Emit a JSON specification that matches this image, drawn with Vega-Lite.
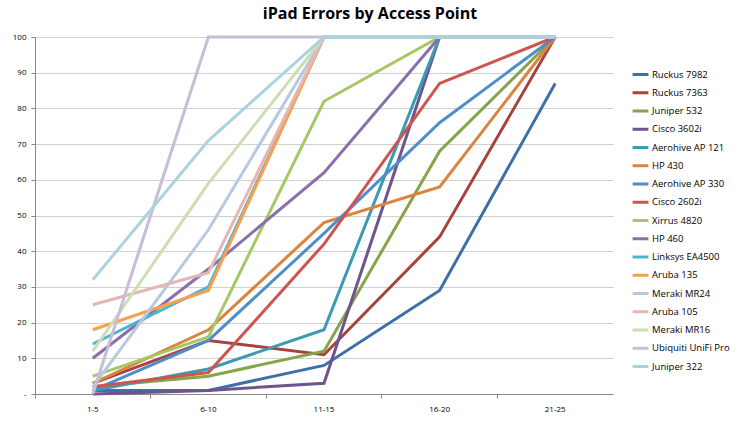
{
  "$schema": "https://vega.github.io/schema/vega-lite/v6.json",
  "autosize": {"type": "none"},
  "width": 578,
  "height": 357,
  "padding": {"left": 35, "top": 37, "right": 126, "bottom": 38},
  "background": "white",
  "title": {"text": "iPad Errors by Access Point", "font": "Open Sans", "fontSize": 16, "fontWeight": "bold", "color": "#000000", "anchor": "middle", "frame": "group", "dx": 46, "offset": 9},
  "config": {"view": {"stroke": null}, "font": "Open Sans"},
  "data": {"values": [
    {"ap": "Ruckus 7982", "r": "1-5", "v": 1}, {"ap": "Ruckus 7982", "r": "6-10", "v": 1}, {"ap": "Ruckus 7982", "r": "11-15", "v": 8}, {"ap": "Ruckus 7982", "r": "16-20", "v": 29}, {"ap": "Ruckus 7982", "r": "21-25", "v": 87},
    {"ap": "Ruckus 7363", "r": "1-5", "v": 3}, {"ap": "Ruckus 7363", "r": "6-10", "v": 15}, {"ap": "Ruckus 7363", "r": "11-15", "v": 11}, {"ap": "Ruckus 7363", "r": "16-20", "v": 44}, {"ap": "Ruckus 7363", "r": "21-25", "v": 100},
    {"ap": "Juniper 532", "r": "1-5", "v": 2}, {"ap": "Juniper 532", "r": "6-10", "v": 5}, {"ap": "Juniper 532", "r": "11-15", "v": 12}, {"ap": "Juniper 532", "r": "16-20", "v": 68}, {"ap": "Juniper 532", "r": "21-25", "v": 100},
    {"ap": "Cisco 3602i", "r": "1-5", "v": 0}, {"ap": "Cisco 3602i", "r": "6-10", "v": 1}, {"ap": "Cisco 3602i", "r": "11-15", "v": 3}, {"ap": "Cisco 3602i", "r": "16-20", "v": 100}, {"ap": "Cisco 3602i", "r": "21-25", "v": 100},
    {"ap": "Aerohive AP 121", "r": "1-5", "v": 1}, {"ap": "Aerohive AP 121", "r": "6-10", "v": 7}, {"ap": "Aerohive AP 121", "r": "11-15", "v": 18}, {"ap": "Aerohive AP 121", "r": "16-20", "v": 100}, {"ap": "Aerohive AP 121", "r": "21-25", "v": 100},
    {"ap": "HP 430", "r": "1-5", "v": 3}, {"ap": "HP 430", "r": "6-10", "v": 18}, {"ap": "HP 430", "r": "11-15", "v": 48}, {"ap": "HP 430", "r": "16-20", "v": 58}, {"ap": "HP 430", "r": "21-25", "v": 100},
    {"ap": "Aerohive AP 330", "r": "1-5", "v": 1}, {"ap": "Aerohive AP 330", "r": "6-10", "v": 15}, {"ap": "Aerohive AP 330", "r": "11-15", "v": 45}, {"ap": "Aerohive AP 330", "r": "16-20", "v": 76}, {"ap": "Aerohive AP 330", "r": "21-25", "v": 100},
    {"ap": "Cisco 2602i", "r": "1-5", "v": 2}, {"ap": "Cisco 2602i", "r": "6-10", "v": 6}, {"ap": "Cisco 2602i", "r": "11-15", "v": 42}, {"ap": "Cisco 2602i", "r": "16-20", "v": 87}, {"ap": "Cisco 2602i", "r": "21-25", "v": 100},
    {"ap": "Xirrus 4820", "r": "1-5", "v": 5}, {"ap": "Xirrus 4820", "r": "6-10", "v": 16}, {"ap": "Xirrus 4820", "r": "11-15", "v": 82}, {"ap": "Xirrus 4820", "r": "16-20", "v": 100}, {"ap": "Xirrus 4820", "r": "21-25", "v": 100},
    {"ap": "HP 460", "r": "1-5", "v": 10}, {"ap": "HP 460", "r": "6-10", "v": 35}, {"ap": "HP 460", "r": "11-15", "v": 62}, {"ap": "HP 460", "r": "16-20", "v": 100}, {"ap": "HP 460", "r": "21-25", "v": 100},
    {"ap": "Linksys EA4500", "r": "1-5", "v": 14}, {"ap": "Linksys EA4500", "r": "6-10", "v": 30}, {"ap": "Linksys EA4500", "r": "11-15", "v": 100}, {"ap": "Linksys EA4500", "r": "16-20", "v": 100}, {"ap": "Linksys EA4500", "r": "21-25", "v": 100},
    {"ap": "Aruba 135", "r": "1-5", "v": 18}, {"ap": "Aruba 135", "r": "6-10", "v": 29}, {"ap": "Aruba 135", "r": "11-15", "v": 100}, {"ap": "Aruba 135", "r": "16-20", "v": 100}, {"ap": "Aruba 135", "r": "21-25", "v": 100},
    {"ap": "Meraki MR24", "r": "1-5", "v": 2}, {"ap": "Meraki MR24", "r": "6-10", "v": 46}, {"ap": "Meraki MR24", "r": "11-15", "v": 100}, {"ap": "Meraki MR24", "r": "16-20", "v": 100}, {"ap": "Meraki MR24", "r": "21-25", "v": 100},
    {"ap": "Aruba 105", "r": "1-5", "v": 25}, {"ap": "Aruba 105", "r": "6-10", "v": 34}, {"ap": "Aruba 105", "r": "11-15", "v": 100}, {"ap": "Aruba 105", "r": "16-20", "v": 100}, {"ap": "Aruba 105", "r": "21-25", "v": 100},
    {"ap": "Meraki MR16", "r": "1-5", "v": 12}, {"ap": "Meraki MR16", "r": "6-10", "v": 59}, {"ap": "Meraki MR16", "r": "11-15", "v": 100}, {"ap": "Meraki MR16", "r": "16-20", "v": 100}, {"ap": "Meraki MR16", "r": "21-25", "v": 100},
    {"ap": "Ubiquiti UniFi Pro", "r": "1-5", "v": 0}, {"ap": "Ubiquiti UniFi Pro", "r": "6-10", "v": 100}, {"ap": "Ubiquiti UniFi Pro", "r": "11-15", "v": 100}, {"ap": "Ubiquiti UniFi Pro", "r": "16-20", "v": 100}, {"ap": "Ubiquiti UniFi Pro", "r": "21-25", "v": 100},
    {"ap": "Juniper 322", "r": "1-5", "v": 32}, {"ap": "Juniper 322", "r": "6-10", "v": 71}, {"ap": "Juniper 322", "r": "11-15", "v": 100}, {"ap": "Juniper 322", "r": "16-20", "v": 100}, {"ap": "Juniper 322", "r": "21-25", "v": 100}
  ]},
  "mark": {"type": "line", "strokeWidth": 3, "strokeJoin": "miter", "clip": false},
  "encoding": {
    "x": {"field": "r", "type": "ordinal", "bandPosition": 0.5,
      "sort": ["1-5", "6-10", "11-15", "16-20", "21-25"],
      "scale": {"type": "band", "paddingInner": 0, "paddingOuter": 0},
      "axis": {"title": null, "labelAngle": 0, "bandPosition": 0, "labelFontSize": 8, "labelColor": "#000000", "domainColor": "#888888", "tickColor": "#888888", "tickSize": 4, "labelPadding": 7, "grid": false}
    },
    "y": {"field": "v", "type": "quantitative",
      "scale": {"domain": [0, 100], "nice": false},
      "axis": {"title": null, "values": [0, 10, 20, 30, 40, 50, 60, 70, 80, 90, 100], "labelExpr": "datum.value == 0 ? '-' : datum.label", "labelFontSize": 8, "labelColor": "#000000", "domainColor": "#888888", "tickColor": "#888888", "tickSize": 4, "labelPadding": 5, "gridColor": "#d0d0d0", "gridWidth": 1}
    },
    "color": {"field": "ap", "type": "nominal",
      "scale": {
        "domain": ["Ruckus 7982", "Ruckus 7363", "Juniper 532", "Cisco 3602i", "Aerohive AP 121", "HP 430", "Aerohive AP 330", "Cisco 2602i", "Xirrus 4820", "HP 460", "Linksys EA4500", "Aruba 135", "Meraki MR24", "Aruba 105", "Meraki MR16", "Ubiquiti UniFi Pro", "Juniper 322"],
        "range": ["#3F6FA8", "#A8423F", "#86A44A", "#6E548D", "#3B9BB2", "#DB843D", "#4F8DCB", "#CD5450", "#A5C764", "#8A70AB", "#4BB5CF", "#F9A04D", "#B8C9DF", "#E4B7B6", "#CDDDB5", "#C9BCD9", "#AAD3E0"]
      },
      "legend": {"title": null, "orient": "none", "legendX": 596, "legendY": 28, "symbolType": "stroke", "symbolStrokeWidth": 3, "symbolSize": 250, "labelFontSize": 9.5, "labelColor": "#000000", "rowPadding": 2.25, "labelOffset": 2, "labelLimit": 200}
    }
  }
}
